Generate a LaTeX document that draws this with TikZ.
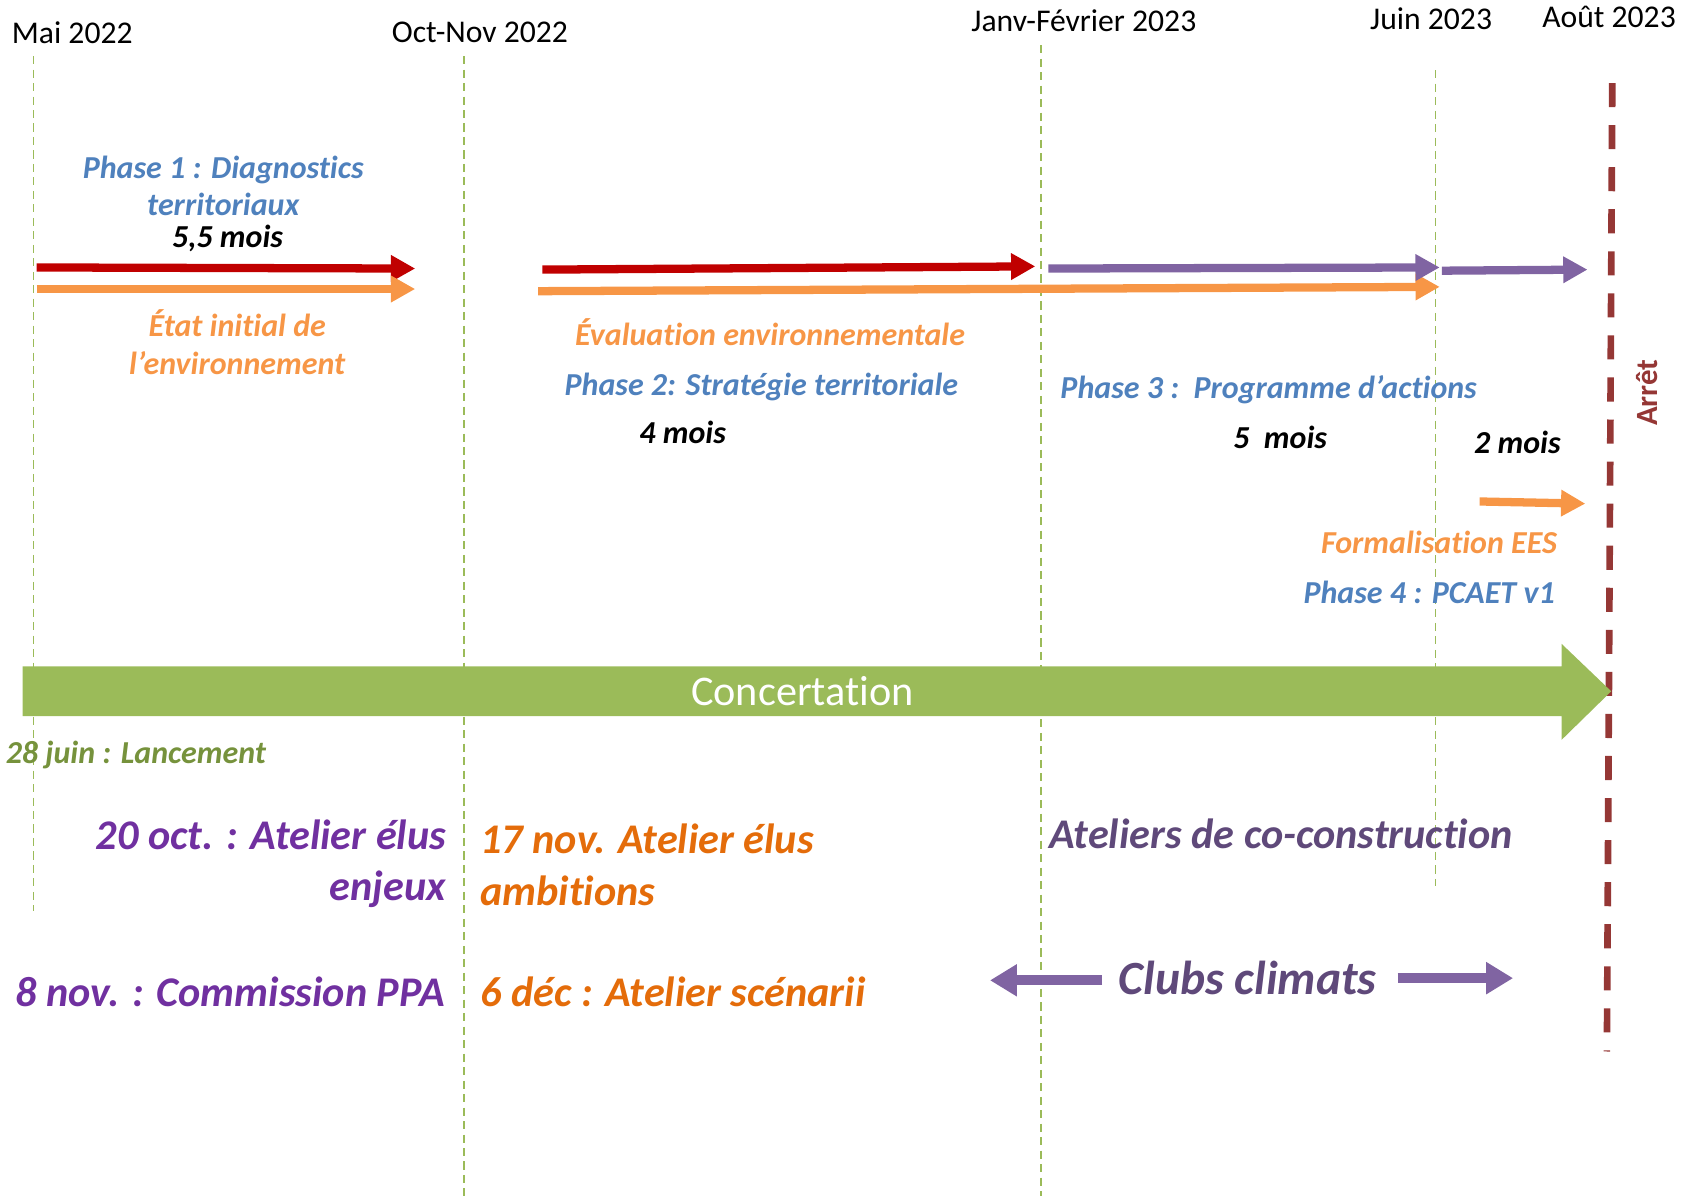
\documentclass[tikz,border=0pt]{standalone}
\usepackage{fontspec}
\setmainfont{Carlito}[Ligatures=NoCommon]
\usetikzlibrary{arrows.meta}
\definecolor{phaseblue}{RGB}{79,129,189}
\definecolor{diagred}{RGB}{192,0,0}
\definecolor{eesorange}{RGB}{247,150,70}
\definecolor{progpurple}{RGB}{128,100,162}
\definecolor{concgreen}{RGB}{155,187,89}
\definecolor{arretred}{RGB}{149,55,53}
\definecolor{eluspurple}{RGB}{112,48,160}
\definecolor{elusorange}{RGB}{228,108,10}
\definecolor{clubpurple}{RGB}{95,73,122}
\definecolor{lancgreen}{RGB}{118,146,60}

\tikzset{
  datelbl/.style={font=\fontsize{17.6}{20}\selectfont, inner sep=0pt},
  phaselbl/.style={font=\fontsize{17.8}{20.6}\selectfont\bfseries\itshape, inner sep=0pt, align=center},
  evtlbl/.style={font=\fontsize{23.5}{28.8}\selectfont\bfseries\itshape, inner sep=0pt},
  phasearrow/.style={line width=4.6pt, -{Triangle[length=13.5pt,width=14pt]}},
  monthline/.style={concgreen, line width=0.9pt, dash pattern=on 4.5pt off 3pt},
}

\begin{document}
\begin{tikzpicture}[x=0.6pt, y=-0.6pt]
  \useasboundingbox (0,0) rectangle (1568,1109);
  % Months
  \node[datelbl] (mai) at (67,30) {Mai 2022};
  \node[datelbl] (oct) at (445,30) {Oct-Nov 2022};
  \node[datelbl] (jan) at (1005,19) {Janv-Février 2023};
  \node[datelbl] (juin) at (1327,17) {Juin 2023};
  \node[datelbl] (aout) at (1492,16) {Août 2023};
  \draw[monthline] (31,52) -- (31,845);
  \draw[monthline] (430,52) -- (430,1109);
  \draw[monthline] (965,42) -- (965,1109);
  \draw[monthline] (1331,65) -- (1331,822);
  % Arret
  \draw[arretred, line width=3.7pt, dash pattern=on 13.4pt off 10pt] (1495,77) -- (1490,975);
  \node[font=\fontsize{17.2}{20}\selectfont\bfseries, text=arretred, rotate=90, inner sep=0pt] (arret) at (1527,364) {Arrêt};
  % Phase 1
  \draw[phasearrow, diagred] (34,248) -- (385,249);
  \draw[phasearrow, eesorange] (34,268) -- (385,268);
  \node[phaselbl, text=phaseblue] (ph1) at (207,172) {Phase 1 : Diagnostics\\territoriaux};
  \node[phaselbl] (ph1m) at (211,221) {5,5 mois};
  \node[phaselbl, text=eesorange, font=\fontsize{17.8}{21}\selectfont\bfseries\itshape] (eie) at (220,317) {État initial de\\l’environnement};
  % Phase 2
  \draw[phasearrow, diagred] (503,250) -- (960,247);
  \draw[phasearrow, eesorange] (499,270) -- (1335,266);
  \node[phaselbl, text=eesorange] (ee) at (714,308) {Évaluation environnementale};
  \node[phaselbl, text=phaseblue] (ph2) at (706,359) {Phase 2: Stratégie territoriale};
  \node[phaselbl] (ph2m) at (633,401) {4 mois};
  % Phase 3
  \draw[phasearrow, progpurple] (972,249) -- (1335,248);
  \node[phaselbl, text=phaseblue, anchor=west] (ph3) at (983,361) {Phase 3 :\ \ Programme d’actions};
  \node[phaselbl] (ph3m) at (1187,406) {5\ \ mois};
  % Phase 4
  \draw[phasearrow, progpurple] (1337,251) -- (1472,250);
  \draw[phasearrow, eesorange] (1372,465) -- (1470,467);
  \node[phaselbl] (ph4m) at (1407,410) {2 mois};
  \node[phaselbl, text=eesorange, anchor=east] (fees) at (1444,503) {Formalisation EES};
  \node[phaselbl, text=phaseblue, anchor=east] (ph4) at (1442,549) {Phase 4 : PCAET v1};
  % Concertation
  \fill[concgreen] (21,618) -- (1448,618) -- (1448,597) -- (1494,641) -- (1448,686) -- (1448,664) -- (21,664) -- cycle;
  \node[font=\fontsize{23.5}{28}\selectfont, text=white, inner sep=0pt] (conc) at (744,641) {Concertation};
  \node[phaselbl, text=lancgreen, anchor=west] (lanc) at (5,700) {28 juin : Lancement};
  % Ateliers
  \node[evtlbl, text=eluspurple, anchor=east, align=right] (enjeux) at (414,801) {20 oct. : Atelier élus\\enjeux};
  \node[evtlbl, text=elusorange, anchor=west, align=left] (ambit) at (445,802) {17 nov. Atelier élus\\ambitions};
  \node[evtlbl, text=eluspurple, anchor=east] (ppa) at (413,920) {8 nov. : Commission PPA};
  \node[evtlbl, text=elusorange, anchor=west] (scen) at (445,920) {6 déc : Atelier scénarii};
  \node[evtlbl, text=clubpurple, anchor=west] (coc) at (973,773) {Ateliers de co-construction};
  % Clubs climats
  \node[evtlbl, text=clubpurple, font=\fontsize{26.5}{30}\selectfont\bfseries\itshape] (clubs) at (1157,907) {Clubs climats};
  \draw[progpurple, line width=5.5pt, -{Triangle[length=15pt,width=17pt]}] (1022,909) -- (918,909);
  \draw[progpurple, line width=5.5pt, -{Triangle[length=15pt,width=17pt]}] (1296,907) -- (1403,907);
\end{tikzpicture}
\end{document}
